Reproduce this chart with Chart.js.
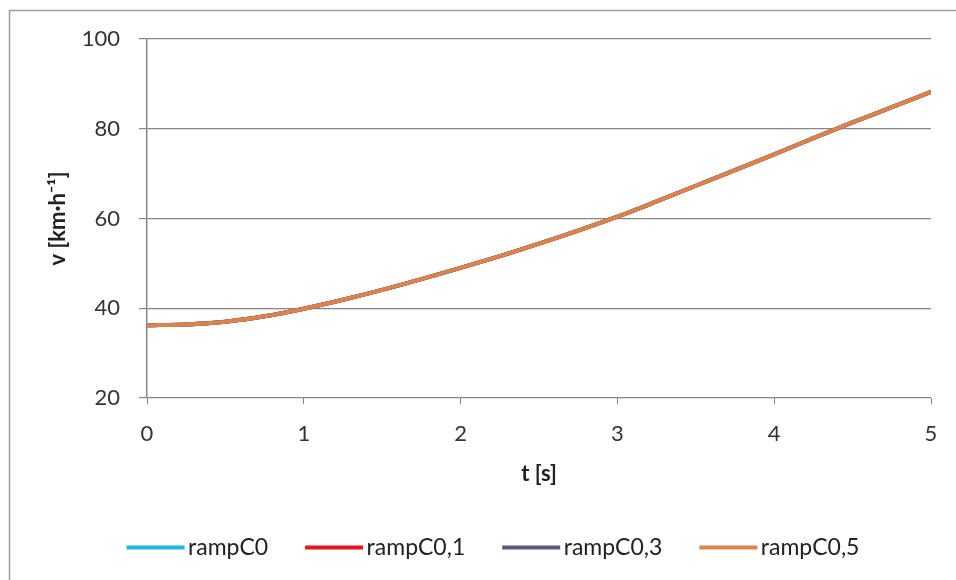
<!DOCTYPE html>
<html>
<head>
<meta charset="utf-8">
<script src="https://cdn.jsdelivr.net/npm/chart.js@4/dist/chart.umd.min.js"></script>
<style>
  html, body { margin: 0; padding: 0; background: #ffffff; }
  #wrap { position: relative; width: 956px; height: 580px; }
</style>
</head>
<body>
<div id="wrap"><canvas id="c" width="956" height="580"></canvas></div>
<script>
// ---- data ----
const timeValues = [0, 0.25, 0.5, 0.75, 1, 1.25, 1.5, 1.75, 2, 2.25, 2.5, 2.75, 3, 3.25, 3.5, 3.75, 4, 4.25, 4.5, 4.75, 5];
const rampC0   = [36.2, 36.4, 37.0, 38.2, 39.9, 41.9, 44.1, 46.5, 49.0, 51.6, 54.4, 57.3, 60.4, 63.8, 67.3, 70.8, 74.3, 77.9, 81.4, 84.8, 88.2];
const rampC0_1 = [36.2, 36.4, 37.0, 38.2, 39.9, 41.9, 44.1, 46.5, 49.0, 51.6, 54.4, 57.3, 60.4, 63.8, 67.3, 70.8, 74.3, 77.9, 81.4, 84.8, 88.2];
const rampC0_3 = [36.2, 36.4, 37.0, 38.2, 39.9, 41.9, 44.1, 46.5, 49.0, 51.6, 54.4, 57.3, 60.4, 63.8, 67.3, 70.8, 74.3, 77.9, 81.4, 84.8, 88.2];
const rampC0_5 = [36.2, 36.4, 37.0, 38.2, 39.9, 41.9, 44.1, 46.5, 49.0, 51.6, 54.4, 57.3, 60.4, 63.8, 67.3, 70.8, 74.3, 77.9, 81.4, 84.8, 88.2];
const seriesNames = ['rampC0', 'rampC0,1', 'rampC0,3', 'rampC0,5'];
const xTicks = [0, 1, 2, 3, 4, 5];
const yTicks = [20, 40, 60, 80, 100];
const xTitle = 't [s]';
const yTitle = 'v [km\u00B7h\u207B\u00B9]';

const seriesValues = [rampC0, rampC0_1, rampC0_3, rampC0_5];
const seriesColors = ['#1EB4E6', '#E8141C', '#5E5878', '#DA844C'];
const drawOrder = [3, 2, 1, 0]; // last series painted on top, as in the reference

const FONT = 'Lato, "Open Sans", "Liberation Sans", sans-serif';
const GRID = '#868686';

// legend sample line: 58 px long, starting at the item's left edge
function legendLine(color) {
  const c = document.createElement('canvas');
  c.width = 68; c.height = 8;
  const g = c.getContext('2d');
  g.strokeStyle = color; g.lineWidth = 4;
  g.beginPath(); g.moveTo(9, 4); g.lineTo(67, 4); g.stroke();
  return c;
}

const framePlugin = {
  id: 'frame',
  afterDraw(chart) {
    const ctx = chart.ctx;
    ctx.save();
    ctx.strokeStyle = '#a0a0a0';
    ctx.lineWidth = 1.5;
    ctx.strokeRect(9.5, 10.5, 1000, 1000);
    ctx.restore();
  }
};

const datasets = seriesNames.map((name, i) => ({
  label: name,
  data: timeValues.map((t, j) => ({ x: t, y: seriesValues[i][j] })),
  borderColor: seriesColors[i],
  backgroundColor: seriesColors[i],
  borderWidth: 4,
  pointRadius: 0,
  pointStyle: legendLine(seriesColors[i]),
  order: drawOrder[i],
  cubicInterpolationMode: 'monotone',
  fill: false
}));

new Chart(document.getElementById('c'), {
  type: 'line',
  data: { datasets },
  plugins: [framePlugin],
  options: {
    responsive: false,
    animation: false,
    devicePixelRatio: 1,
    layout: { padding: { top: 39, right: 25, left: 55, bottom: 11 } },
    plugins: {
      tooltip: { enabled: false },
      legend: {
        position: 'bottom',
        align: 'center',
        labels: {
          usePointStyle: true,
          pointStyleWidth: 50,
          padding: 37,
          color: '#222',
          font: { family: FONT, size: 23 },
          sort: (a, b) => a.datasetIndex - b.datasetIndex
        }
      }
    },
    scales: {
      x: {
        type: 'linear',
        min: 0, max: 5,
        afterBuildTicks(scale) { scale.ticks = xTicks.map(v => ({ value: v })); },
        afterFit(scale) { scale.height = 101; },
        grid: { drawOnChartArea: false, drawTicks: true, tickLength: 6, color: GRID, tickColor: GRID },
        border: { display: false },
        ticks: { color: '#333', font: { family: FONT, size: 22 }, padding: 17, maxRotation: 0 },
        title: { display: true, text: xTitle, color: '#222', font: { family: FONT, size: 22, weight: 'bold' }, padding: { top: 0, bottom: 12 } }
      },
      y: {
        type: 'linear',
        min: 20, max: 100,
        afterBuildTicks(scale) { scale.ticks = yTicks.map(v => ({ value: v })); },
        afterFit(scale) { scale.width = 92; },
        grid: { color: GRID, tickColor: GRID, tickLength: 8, lineWidth: 1.2 },
        border: { display: true, color: GRID, width: 1.5 },
        ticks: { color: '#333', font: { family: FONT, size: 22 }, padding: 19 },
        title: { display: true, text: yTitle, color: '#222', font: { family: FONT, size: 22, weight: 'bold' }, padding: { top: -10, bottom: 0 } }
      }
    }
  }
});
</script>
</body>
</html>
